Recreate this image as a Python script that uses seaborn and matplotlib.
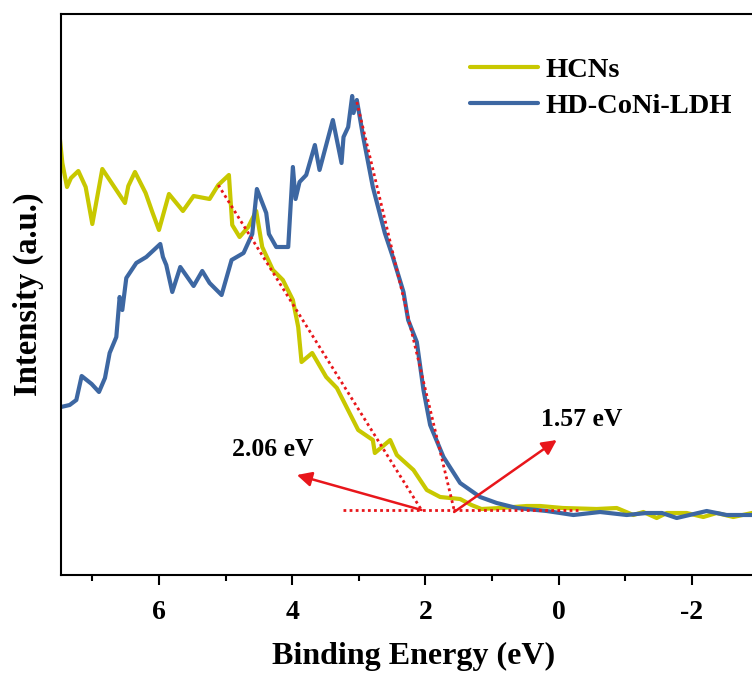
import numpy as np
import pandas as pd
import matplotlib
matplotlib.use("Agg")
import matplotlib.pyplot as plt
import seaborn as sns

# Valence-band XPS spectra (binding energy in eV, intensity in a.u.)
hcns_energy = [7.50, 7.45, 7.38, 7.32, 7.21, 7.10, 7.00, 6.85, 6.74, 6.61, 6.51, 6.46,
               6.36, 6.20, 6.10, 6.00, 5.85, 5.64, 5.48, 5.24, 5.11, 4.95, 4.90, 4.79,
               4.66, 4.54, 4.45, 4.29, 4.14, 3.99, 3.91, 3.86, 3.70, 3.49, 3.33, 3.01,
               2.79, 2.76, 2.53, 2.43, 2.18, 1.98, 1.78, 1.48, 1.31, 1.16, 0.88, 0.48,
               0.28, -0.06, -0.57, -0.87, -1.12, -1.27, -1.47, -1.62, -1.92, -2.17,
               -2.37, -2.62, -2.90, -3.10]
hcns_intensity = [445, 412, 388, 397, 404, 388, 351, 406, 395, 382, 372, 389,
                  403, 382, 363, 345, 381, 364, 379, 376, 390, 400, 350, 338,
                  348, 364, 328, 305, 295, 275, 248, 213, 222, 198, 187, 145,
                  135, 122, 135, 120, 105, 85, 78, 76, 70, 66, 67, 69,
                  69, 67, 66, 67, 60, 63, 57, 62, 62, 58,
                  62, 58, 62, 61]

ldh_energy = [7.47, 7.34, 7.24, 7.16, 7.01, 6.90, 6.81, 6.74, 6.64, 6.59, 6.55, 6.49,
              6.34, 6.19, 5.98, 5.94, 5.89, 5.80, 5.68, 5.48, 5.35, 5.24, 5.06, 4.91,
              4.73, 4.60, 4.53, 4.39, 4.35, 4.24, 4.06, 3.99, 3.95, 3.89, 3.79, 3.66,
              3.59, 3.39, 3.26, 3.23, 3.16, 3.10, 3.08, 3.03, 2.94, 2.79, 2.61, 2.49,
              2.33, 2.26, 2.13, 2.03, 1.93, 1.73, 1.48, 1.18, 0.93, 0.63, 0.18, -0.22,
              -0.62, -1.02, -1.32, -1.55, -1.77, -2.22, -2.52, -2.90, -3.10]
ldh_intensity = [168, 170, 175, 199, 191, 183, 197, 222, 238, 278, 265, 297,
                 312, 318, 331, 318, 310, 283, 308, 289, 304, 292, 280, 315,
                 322, 341, 386, 362, 341, 328, 328, 408, 376, 393, 400, 430,
                 405, 455, 412, 438, 448, 479, 462, 475, 440, 388, 342, 318,
                 283, 255, 233, 185, 150, 118, 92, 78, 72, 67, 64, 60,
                 63, 60, 62, 62, 57, 64, 60, 60, 61]

series_names = ["HCNs", "HD-CoNi-LDH"]
series_colors = ["#C8C800", "#3D67A2"]

# Band-edge extrapolation: tangent end points and the background line
baseline_level = 65
hcns_tangent_energy = [5.11, 2.06]
hcns_tangent_intensity = [390, baseline_level]
ldh_tangent_energy = [3.03, 1.57]
ldh_tangent_intensity = [473, baseline_level]
baseline_energy = [3.24, -0.34]
edge_values = [2.06, 1.57]
edge_labels = ["2.06 eV", "1.57 eV"]

xtick_values = [6, 4, 2, 0, -2]
xtick_labels = ["6", "4", "2", "0", "-2"]

df = pd.concat([
    pd.DataFrame({"energy": hcns_energy, "intensity": hcns_intensity, "sample": series_names[0]}),
    pd.DataFrame({"energy": ldh_energy, "intensity": ldh_intensity, "sample": series_names[1]}),
], ignore_index=True)

sns.set_style("ticks")
plt.rcParams["font.family"] = ["Liberation Serif", "DejaVu Serif"]
plt.rcParams["font.weight"] = "bold"
plt.rcParams["axes.labelweight"] = "bold"
plt.rcParams["text.color"] = "black"
plt.rcParams["axes.labelcolor"] = "black"
plt.rcParams["xtick.color"] = "black"
plt.rcParams["ytick.color"] = "black"

fig = plt.figure(figsize=(7.52, 6.73), dpi=100)
ax = fig.add_axes([61 / 752, 98 / 673, 704.3 / 752, 561 / 673])

sns.lineplot(data=df, x="energy", y="intensity", hue="sample",
             palette=dict(zip(series_names, series_colors)),
             estimator=None, linewidth=3.0, ax=ax, legend=True)

red = "#E8161B"
dot = dict(color=red, linestyle=(0, (1, 1.2)), linewidth=2.0)
ax.plot(hcns_tangent_energy, hcns_tangent_intensity, **dot)
ax.plot(ldh_tangent_energy, ldh_tangent_intensity, **dot)
ax.plot(baseline_energy, [baseline_level, baseline_level], **dot)

arrow = dict(arrowstyle="-|>", color=red, lw=1.8, mutation_scale=22, shrinkA=0, shrinkB=0)
ax.annotate("", xy=(3.93, 100), xytext=(edge_values[0], baseline_level), arrowprops=arrow)
ax.annotate("", xy=(0.03, 135), xytext=(edge_values[1], 63), arrowprops=arrow)
ax.text(4.29, 125, edge_labels[0], fontsize=18.5, fontweight="bold", ha="center", va="center")
ax.text(-0.34, 155, edge_labels[1], fontsize=18.5, fontweight="bold", ha="center", va="center")

ax.set_xlim(7.47, -3.10)
ax.set_ylim(0, 561)
ax.set_xticks(xtick_values)
ax.set_xticklabels(xtick_labels)
ax.set_xticks([7, 5, 3, 1, -1], minor=True)
ax.set_yticks([])
ax.tick_params(axis="x", which="major", length=7.2, width=1.5, pad=11, labelsize=20,
               colors="black")
ax.tick_params(axis="x", which="minor", length=4.3, width=1.5, colors="black")
for s in ax.spines.values():
    s.set_linewidth(1.5)
    s.set_color("black")

ax.set_xlabel("Binding Energy (eV)", fontsize=23, fontweight="bold", labelpad=12,
              color="black")
ax.set_ylabel("Intensity (a.u.)", fontsize=23.5, fontweight="bold", labelpad=12,
              color="black")

leg = ax.legend(loc="upper left", bbox_to_anchor=(470 / 752, 1 - 57 / 673),
                bbox_transform=fig.transFigure, frameon=False,
                fontsize=20.5, handlelength=2.4, handletextpad=0.25,
                labelspacing=0.37, borderpad=0, borderaxespad=0)
for line in leg.get_lines():
    line.set_linewidth(3.0)
for t in leg.get_texts():
    t.set_fontweight("bold")
    t.set_color("black")

fig.savefig("out.png", dpi=100)
